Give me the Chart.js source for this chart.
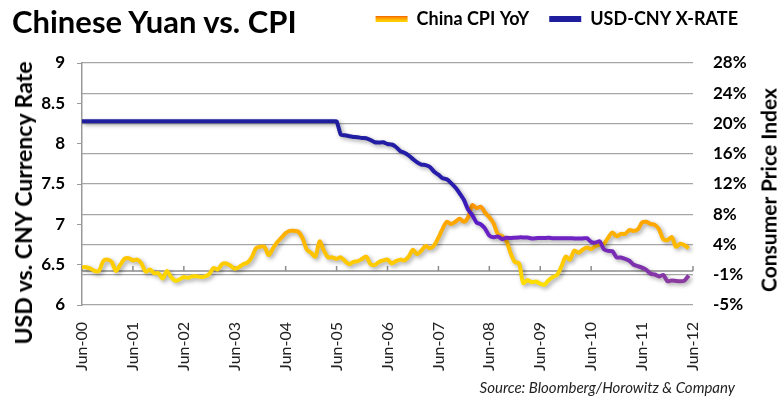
<!DOCTYPE html>
<html>
<head>
<meta charset="utf-8">
<script src="https://cdn.jsdelivr.net/npm/chart.js@4.4.0/dist/chart.umd.min.js"></script>
<style>
  html, body { margin: 0; padding: 0; background: #fff; }
  #wrap { position: relative; width: 778px; height: 400px; }
  .txt { position: absolute; white-space: nowrap; color: #000; }
  #title { left: 12px; top: 2px; font: bold 31px Lato, sans-serif; }
  #source { right: 43px; top: 378px; font: italic 15px Lato, sans-serif; color: #222; }
  .ytitle { font-weight: bold; font-family: Lato, sans-serif; transform: translate(-50%, -50%) rotate(-90deg); }
  #ltitle { left: 23px; top: 203px; font-size: 23px; }
  #rtitle { left: 768px; top: 190px; font-size: 21px; }
</style>
</head>
<body>
<div id="wrap">
  <canvas id="chart" width="778" height="400"></canvas>
  <div id="title" class="txt">Chinese Yuan vs. CPI</div>
  <div id="ltitle" class="txt ytitle">USD vs. CNY Currency Rate</div>
  <div id="rtitle" class="txt ytitle">Consumer Price Index</div>
  <div id="source" class="txt">Source: Bloomberg/Horowitz &amp; Company</div>
</div>
<script>
// monthly, Jun-00 .. Jun-12
var months = [
  'Jun-00','Jul-00','Aug-00','Sep-00','Oct-00','Nov-00','Dec-00',
  'Jan-01','Feb-01','Mar-01','Apr-01','May-01','Jun-01','Jul-01','Aug-01','Sep-01','Oct-01','Nov-01','Dec-01',
  'Jan-02','Feb-02','Mar-02','Apr-02','May-02','Jun-02','Jul-02','Aug-02','Sep-02','Oct-02','Nov-02','Dec-02',
  'Jan-03','Feb-03','Mar-03','Apr-03','May-03','Jun-03','Jul-03','Aug-03','Sep-03','Oct-03','Nov-03','Dec-03',
  'Jan-04','Feb-04','Mar-04','Apr-04','May-04','Jun-04','Jul-04','Aug-04','Sep-04','Oct-04','Nov-04','Dec-04',
  'Jan-05','Feb-05','Mar-05','Apr-05','May-05','Jun-05','Jul-05','Aug-05','Sep-05','Oct-05','Nov-05','Dec-05',
  'Jan-06','Feb-06','Mar-06','Apr-06','May-06','Jun-06','Jul-06','Aug-06','Sep-06','Oct-06','Nov-06','Dec-06',
  'Jan-07','Feb-07','Mar-07','Apr-07','May-07','Jun-07','Jul-07','Aug-07','Sep-07','Oct-07','Nov-07','Dec-07',
  'Jan-08','Feb-08','Mar-08','Apr-08','May-08','Jun-08','Jul-08','Aug-08','Sep-08','Oct-08','Nov-08','Dec-08',
  'Jan-09','Feb-09','Mar-09','Apr-09','May-09','Jun-09','Jul-09','Aug-09','Sep-09','Oct-09','Nov-09','Dec-09',
  'Jan-10','Feb-10','Mar-10','Apr-10','May-10','Jun-10','Jul-10','Aug-10','Sep-10','Oct-10','Nov-10','Dec-10',
  'Jan-11','Feb-11','Mar-11','Apr-11','May-11','Jun-11','Jul-11','Aug-11','Sep-11','Oct-11','Nov-11','Dec-11',
  'Jan-12','Feb-12','Mar-12','Apr-12','May-12','Jun-12'
];

// China CPI YoY, %  (right axis)
var cpiYoY = [
  0.5, 0.5, 0.3, 0.0, 0.0, 1.3, 1.5,
  1.2, 0.0, 0.8, 1.6, 1.7, 1.4, 1.5, 1.0, -0.1, 0.2, -0.3, -0.3,
  -1.0, 0.0, -0.8, -1.3, -1.1, -0.8, -0.9, -0.7, -0.7, -0.8, -0.7, -0.4,
  0.4, 0.2, 0.9, 1.0, 0.7, 0.3, 0.5, 0.9, 1.1, 1.8, 3.0, 3.2,
  3.2, 2.1, 3.0, 3.8, 4.4, 5.0, 5.3, 5.3, 5.2, 4.3, 2.8, 2.4,
  1.9, 3.9, 2.7, 1.8, 1.8, 1.6, 1.8, 1.3, 0.9, 1.2, 1.3, 1.6,
  1.9, 0.9, 0.8, 1.2, 1.4, 1.5, 1.0, 1.3, 1.5, 1.4, 1.9, 2.8,
  2.2, 2.7, 3.3, 3.0, 3.4, 4.4, 5.6, 6.5, 6.2, 6.5, 6.9, 6.5,
  7.1, 8.7, 8.3, 8.5, 7.7, 7.1, 6.3, 4.9, 4.6, 4.0, 2.4, 1.2,
  1.0, -1.6, -1.2, -1.5, -1.4, -1.7, -1.8, -1.2, -0.8, -0.5, 0.6, 1.9,
  1.5, 2.7, 2.4, 2.8, 3.1, 2.9, 3.3, 3.5, 3.6, 4.4, 5.1, 4.6,
  4.9, 4.9, 5.4, 5.3, 5.5, 6.4, 6.5, 6.2, 6.1, 5.5, 4.2, 4.1,
  4.5, 3.2, 3.6, 3.4, 3.0
];

// USD-CNY exchange rate (left axis)
var usdCny = [
  8.277, 8.277, 8.277, 8.277, 8.277, 8.277, 8.277,
  8.277, 8.277, 8.277, 8.277, 8.277, 8.277, 8.277, 8.277, 8.277, 8.277, 8.277, 8.277,
  8.277, 8.277, 8.277, 8.277, 8.277, 8.277, 8.277, 8.277, 8.277, 8.277, 8.277, 8.277,
  8.277, 8.277, 8.277, 8.277, 8.277, 8.277, 8.277, 8.277, 8.277, 8.277, 8.277, 8.277,
  8.277, 8.277, 8.277, 8.277, 8.277, 8.277, 8.277, 8.277, 8.277, 8.277, 8.277, 8.277,
  8.277, 8.277, 8.277, 8.277, 8.277, 8.2765, 8.1097, 8.1040, 8.0920, 8.0840, 8.0790, 8.0702,
  8.0668, 8.0450, 8.0170, 8.0150, 8.0165, 7.9956, 7.9897, 7.9591, 7.9087, 7.8868, 7.8535, 7.8087,
  7.7674, 7.7409, 7.7342, 7.7102, 7.6516, 7.6155, 7.5715, 7.5580, 7.5108, 7.4555, 7.3850, 7.3046,
  7.1818, 7.1115, 7.0222, 6.9997, 6.9467, 6.8591, 6.8388, 6.8495, 6.8183, 6.8345, 6.8293, 6.8346,
  6.8382, 6.8379, 6.8359, 6.8250, 6.8278, 6.8319, 6.8317, 6.8322, 6.8262, 6.8274, 6.8272, 6.8282,
  6.8270, 6.8258, 6.8258, 6.8255, 6.8280, 6.7815, 6.7735, 6.7900, 6.6905, 6.6705, 6.6670, 6.5897,
  6.5880, 6.5713, 6.5483, 6.4990, 6.4815, 6.4640, 6.4350, 6.3870, 6.3780, 6.3540, 6.3720, 6.2940,
  6.3036, 6.2980, 6.2943, 6.3030, 6.3655
];

var leftTicks = { min: 6, max: 9, step: 0.5 };
var rightTicks = { min: -4.5, max: 27.5, step: 4 };

function cpiColor(context) {
  var chart = context.chart;
  if (!chart.chartArea) return '#FFC000';
  var y = chart.scales.y1;
  var g = chart.ctx.createLinearGradient(0, y.getPixelForValue(9), 0, y.getPixelForValue(-2));
  g.addColorStop(0, '#FF9600');
  g.addColorStop(0.27, '#FFA800');
  g.addColorStop(0.55, '#FFBE00');
  g.addColorStop(0.82, '#FFD200');
  g.addColorStop(1, '#FFE200');
  return g;
}

function fxColor(context) {
  var chart = context.chart;
  if (!chart.chartArea) return '#1F1FA0';
  var y = chart.scales.y;
  var g = chart.ctx.createLinearGradient(0, y.getPixelForValue(8.3), 0, y.getPixelForValue(6.25));
  g.addColorStop(0, '#1E1E9E');
  g.addColorStop(0.44, '#2A1CB0');
  g.addColorStop(0.62, '#5A1CC8');
  g.addColorStop(0.71, '#6E22C4');
  g.addColorStop(0.88, '#7E32AE');
  g.addColorStop(1, '#8E3C9E');
  return g;
}

// soft shadow under the lines
var shadow = {
  id: 'shadow',
  beforeDatasetDraw: function(chart) {
    var c = chart.ctx;
    c.save();
    c.shadowColor = 'rgba(0,0,0,0.35)';
    c.shadowBlur = 4;
    c.shadowOffsetX = 2;
    c.shadowOffsetY = 2;
  },
  afterDatasetDraw: function(chart) { chart.ctx.restore(); }
};

// category axis line crosses at 0% with small tick marks
var zeroAxis = {
  id: 'zeroAxis',
  beforeDatasetsDraw: function(chart) {
    var c = chart.ctx, a = chart.chartArea, x = chart.scales.x;
    var y0 = chart.scales.y1.getPixelForValue(0);
    c.save();
    c.strokeStyle = '#8c8c8c';
    c.lineWidth = 1.5;
    c.beginPath();
    c.moveTo(a.left, y0);
    c.lineTo(a.right, y0);
    months.forEach(function(m, i) {
      if (m.indexOf('Jun') === 0) {
        var px = x.getPixelForValue(i);
        c.moveTo(px, y0);
        c.lineTo(px, y0 - 5);
      }
    });
    c.stroke();
    c.restore();
  }
};

// legend sits in the title row, above the gap over the plot
var raiseLegend = {
  id: 'raiseLegend',
  afterLayout: function(chart) {
    chart.legend.top -= 25;
    chart.legend.bottom -= 25;
  }
};

var ctx = document.getElementById('chart').getContext('2d');
var myChart = new Chart(ctx, {
  type: 'line',
  data: {
    labels: months,
    datasets: [{
      label: 'China CPI YoY',
      data: cpiYoY,
      yAxisID: 'y1',
      borderColor: cpiColor,
      backgroundColor: '#FF9900',
      borderWidth: 4,
      pointRadius: 0,
      tension: 0.3,
      order: 1
    }, {
      label: 'USD-CNY X-RATE',
      data: usdCny,
      yAxisID: 'y',
      borderColor: fxColor,
      backgroundColor: '#1E1E9E',
      borderWidth: 4,
      pointRadius: 0,
      tension: 0.2,
      order: 0
    }]
  },
  options: {
    responsive: false,
    animation: false,
    layout: { padding: { top: 15, left: 8, right: 20, bottom: 0 } },
    plugins: {
      tooltip: { enabled: false },
      legend: {
        position: 'top',
        align: 'end',
        labels: {
          boxWidth: 32,
          boxHeight: 6,
          padding: 20,
          color: '#000',
          font: { family: 'Lato', size: 18, weight: 'bold' },
          sort: function(a, b) { return a.datasetIndex - b.datasetIndex; },
          generateLabels: function(chart) {
            var items = Chart.defaults.plugins.legend.labels.generateLabels(chart);
            items.forEach(function(it) {
              it.lineWidth = 0;
              it.strokeStyle = 'rgba(0,0,0,0)';
              if (it.datasetIndex === 0) {
                var g = chart.ctx.createLinearGradient(0, 14, 0, 21);
                g.addColorStop(0, '#E02000');
                g.addColorStop(0.5, '#FF9000');
                g.addColorStop(1, '#FFD000');
                it.fillStyle = g;
              } else {
                it.fillStyle = '#1E1E9E';
              }
            });
            return items;
          }
        }
      }
    },
    scales: {
      x: {
        grid: { display: false },
        border: { display: false },
        ticks: {
          autoSkip: false,
          minRotation: 90,
          maxRotation: 90,
          padding: 9,
          color: '#222',
          font: { family: 'Lato', size: 16 },
          callback: function(v, i) { return months[i].indexOf('Jun') === 0 ? months[i] : null; }
        },
        afterFit: function(s) { s.height = 95; }
      },
      y: {
        position: 'left',
        min: leftTicks.min,
        max: leftTicks.max,
        grid: { drawOnChartArea: false, color: '#999', tickLength: 5 },
        border: { display: true, color: '#999', width: 1.5 },
        ticks: {
          stepSize: leftTicks.step,
          padding: 12,
          color: '#000',
          font: { family: 'Lato', size: 17, weight: 'bold' },
          callback: function(v) { return String(v); }
        },
        afterFit: function(s) { s.width = 74; }
      },
      y1: {
        position: 'right',
        min: rightTicks.min,
        max: rightTicks.max,
        grid: { color: '#A6A6A6', lineWidth: 1.2, drawTicks: false },
        border: { display: false },
        ticks: {
          stepSize: rightTicks.step,
          padding: 20,
          color: '#000',
          font: { family: 'Lato', size: 17, weight: 'bold' },
          callback: function(v) {
            var r = v < 0 ? -Math.round(-v) : Math.round(v);
            return r + '%';
          }
        },
        afterFit: function(s) { s.width = 65; }
      }
    }
  },
  plugins: [shadow, zeroAxis, raiseLegend]
});
</script>
</body>
</html>
